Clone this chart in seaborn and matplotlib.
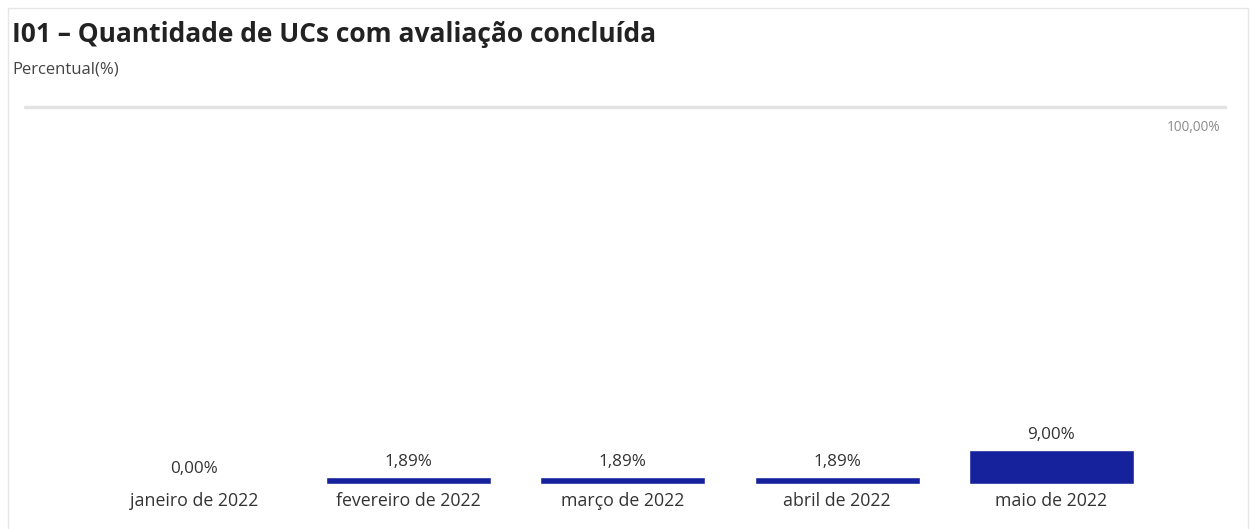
import matplotlib
matplotlib.use("Agg")
import matplotlib.pyplot as plt
import seaborn as sns
import pandas as pd

meses = ["janeiro de 2022", "fevereiro de 2022", "março de 2022", "abril de 2022", "maio de 2022"]
percentual = [0.00, 1.89, 1.89, 1.89, 9.00]
rotulos = ["0,00%", "1,89%", "1,89%", "1,89%", "9,00%"]

df = pd.DataFrame({"mes": meses, "pct": percentual})

sns.set_style("white")
plt.rcParams["font.family"] = ["Open Sans", "DejaVu Sans"]

fig = plt.figure(figsize=(12.56, 5.29), dpi=100)
ax = fig.add_axes([25 / 1256, 1 - 484 / 529, 1200 / 1256, (484 - 107) / 529])

sns.barplot(data=df, x="mes", y="pct", color="#16229c", saturation=1, width=0.77, ax=ax)

ax.set_xlim(-0.79, 4.81)
ax.set_ylim(0, 100)
ax.axhline(100, color="#e3e3e3", lw=2.5, clip_on=False)
ax.text(4.79, 94.5, "100,00%", ha="right", va="center", fontsize=9.8, color="#8a8a8a")

for i, (v, r) in enumerate(zip(percentual, rotulos)):
    ax.annotate(r, (i, v), xytext=(0, 5), textcoords="offset points",
                ha="center", va="bottom", fontsize=12.3, color="#333333")

ax.set_xlabel("")
ax.set_ylabel("")
ax.set_yticks([])
ax.tick_params(axis="x", length=0, pad=6, labelsize=12.8, labelcolor="#333333")
for s in ax.spines.values():
    s.set_visible(False)

fig.text(12 / 1256, 1 - 34 / 529, "I01 – Quantidade de UCs com avaliação concluída",
         fontsize=19, fontweight="bold", color="#222222", va="center")
fig.text(12 / 1256, 1 - 70 / 529, "Percentual(%)", fontsize=12, color="#444444", va="center")

# moldura clara do cartão
fig.add_artist(plt.Line2D([8 / 1256, 8 / 1256], [0, 1 - 8 / 529], color="#e6e6e6", lw=1))
fig.add_artist(plt.Line2D([8 / 1256, 1248 / 1256], [1 - 8 / 529, 1 - 8 / 529], color="#e6e6e6", lw=1))
fig.add_artist(plt.Line2D([1248 / 1256, 1248 / 1256], [0, 1 - 8 / 529], color="#e6e6e6", lw=1))

fig.savefig("out.png", dpi=100)
